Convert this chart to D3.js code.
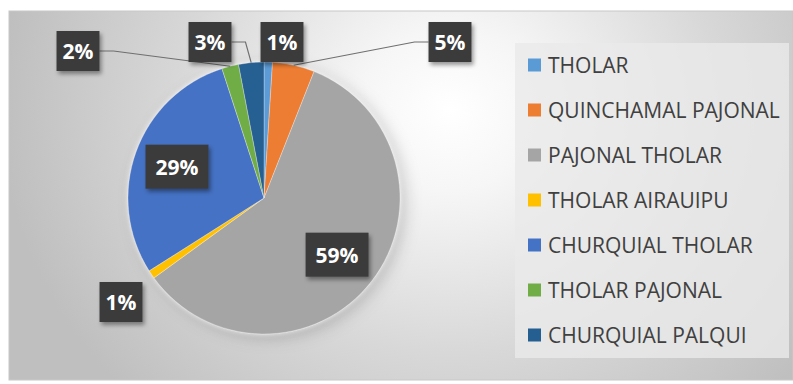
<!DOCTYPE html>
<html>
<head>
<meta charset="utf-8">
<script src="https://cdn.jsdelivr.net/npm/d3@7"></script>
<style>
  html, body { margin: 0; padding: 0; background: #ffffff; }
  svg { display: block; }
</style>
</head>
<body>
<svg id="chart" width="793" height="384"></svg>
<script>
// Vegetation cover shares
const categories = [
  "THOLAR",
  "QUINCHAMAL PAJONAL",
  "PAJONAL THOLAR",
  "THOLAR AIRAUIPU",
  "CHURQUIAL THOLAR",
  "THOLAR PAJONAL",
  "CHURQUIAL PALQUI"
];
const values = [1, 5, 59, 1, 29, 2, 3];
const valueLabels = ["1%", "5%", "59%", "1%", "29%", "2%", "3%"];
const colors = ["#5b9bd5", "#ed7d31", "#a5a5a5", "#ffc000", "#4472c4", "#70ad47", "#255e91"];

const svg = d3.select("#chart");
const defs = svg.append("defs");

// chart area background: soft radial grey
const bg = defs.append("radialGradient")
  .attr("id", "bgGrad")
  .attr("gradientUnits", "userSpaceOnUse")
  .attr("cx", 450).attr("cy", 110).attr("r", 450)
  .attr("gradientTransform", "translate(450,110) scale(1,0.9) translate(-450,-110)");
bg.append("stop").attr("offset", 0).attr("stop-color", "#ffffff");
bg.append("stop").attr("offset", 0.2).attr("stop-color", "#f6f6f6");
bg.append("stop").attr("offset", 0.6).attr("stop-color", "#d8d8d8");
bg.append("stop").attr("offset", 1).attr("stop-color", "#bfbfbf");

const glow = defs.append("filter").attr("id", "pieGlow")
  .attr("x", "-20%").attr("y", "-20%").attr("width", "140%").attr("height", "140%");
glow.append("feDropShadow").attr("dx", 0).attr("dy", 0)
  .attr("stdDeviation", 2.5).attr("flood-color", "#ffffff").attr("flood-opacity", 0.9);

const shade = defs.append("filter").attr("id", "pieShade")
  .attr("x", "-20%").attr("y", "-20%").attr("width", "150%").attr("height", "150%");
shade.append("feDropShadow").attr("dx", 6).attr("dy", 4)
  .attr("stdDeviation", 8).attr("flood-color", "#000000").attr("flood-opacity", 0.18);

const boxShadow = defs.append("filter").attr("id", "boxShadow")
  .attr("x", "-30%").attr("y", "-30%").attr("width", "170%").attr("height", "170%");
boxShadow.append("feDropShadow").attr("dx", 2).attr("dy", 3)
  .attr("stdDeviation", 2).attr("flood-color", "#000000").attr("flood-opacity", 0.4);

// chart area
svg.append("rect")
  .attr("x", 9).attr("y", 11).attr("width", 784).attr("height", 369)
  .attr("fill", "url(#bgGrad)")
  .attr("stroke", "#c8c8c8").attr("stroke-width", 1);

// pie
const cx = 264, cy = 198, radius = 136;
const pie = d3.pie().value(d => d).sort(null).startAngle(0).endAngle(2 * Math.PI);
const arcs = pie(values);
const arc = d3.arc().innerRadius(0).outerRadius(radius);
const inner = d3.arc().innerRadius(radius * 0.68).outerRadius(radius * 0.68);

const pieG = svg.append("g").attr("transform", `translate(${cx},${cy})`);
pieG.append("circle").attr("r", radius).attr("fill", "#a5a5a5").attr("filter", "url(#pieShade)");
const slicesG = pieG.append("g").attr("filter", "url(#pieGlow)");
slicesG.selectAll("path")
  .data(arcs)
  .join("path")
  .attr("d", arc)
  .attr("fill", (d, i) => colors[i])
  .attr("stroke", "rgba(255,255,255,0.35)")
  .attr("stroke-width", 0.8);

// label placement: inside slices use the centroid, the others sit outside
const outsideAt = {
  0: [282, 42],
  1: [450, 42],
  3: [121, 302],
  5: [78, 51],
  6: [210, 42]
};
const leaders = [1, 5, 6];

const labelFont = "'Open Sans', 'DejaVu Sans', sans-serif";
const labelPos = arcs.map((a, i) => {
  if (outsideAt[i]) return { x: outsideAt[i][0], y: outsideAt[i][1], inside: false };
  const c = inner.centroid(a);
  return { x: cx + c[0], y: cy + c[1], inside: true };
});

// measure label text widths
const measure = svg.append("text")
  .attr("font-family", labelFont).attr("font-weight", 700).attr("font-size", 21)
  .attr("visibility", "hidden");
const boxes = valueLabels.map((t, i) => {
  measure.text(t);
  const tw = measure.node().getComputedTextLength();
  const p = labelPos[i];
  const w = tw + (p.inside ? 20 : 12);
  const h = p.inside ? 44 : 40;
  return { x: p.x - w / 2, y: p.y - h / 2, w, h, cx: p.x, cy: p.y };
});
measure.remove();

// leader lines
const lineG = svg.append("g");
leaders.forEach(i => {
  const a = arcs[i];
  const mid = (a.startAngle + a.endAngle) / 2;
  const px = cx + radius * Math.sin(mid);
  const py = cy - radius * Math.cos(mid);
  const b = boxes[i];
  const leftSide = b.cx > px;
  const ex = leftSide ? b.x : b.x + b.w;
  const kx = leftSide ? ex - 14 : ex + 14;
  lineG.append("polyline")
    .attr("points", `${ex},${b.cy} ${kx},${b.cy} ${px},${py}`)
    .attr("fill", "none")
    .attr("stroke", "#6f6f6f")
    .attr("stroke-width", 1.2);
});

// data labels
const labG = svg.append("g");
boxes.forEach((b, i) => {
  labG.append("rect")
    .attr("x", b.x).attr("y", b.y).attr("width", b.w).attr("height", b.h)
    .attr("fill", "#3a3a3a")
    .attr("filter", "url(#boxShadow)");
  labG.append("text")
    .attr("x", b.cx).attr("y", b.cy)
    .attr("text-anchor", "middle")
    .attr("dominant-baseline", "central")
    .attr("font-family", labelFont)
    .attr("font-weight", 700)
    .attr("font-size", 21)
    .attr("fill", "#ffffff")
    .text(valueLabels[i]);
});

// legend
const legend = svg.append("g");
legend.append("rect")
  .attr("x", 515).attr("y", 43).attr("width", 274).attr("height", 315)
  .attr("fill", "#eaeaea").attr("fill-opacity", 0.8);
const rowY = d3.scalePoint().domain(d3.range(categories.length)).range([65, 335]);
categories.forEach((c, i) => {
  const y = rowY(i);
  legend.append("rect")
    .attr("x", 528).attr("y", y - 6.5).attr("width", 13).attr("height", 13)
    .attr("fill", colors[i]);
  legend.append("text")
    .attr("x", 548).attr("y", y)
    .attr("dominant-baseline", "central")
    .attr("font-family", "'Open Sans', 'DejaVu Sans', sans-serif")
    .attr("font-size", 21)
    .attr("fill", "#404040")
    .text(c);
});
</script>
</body>
</html>
